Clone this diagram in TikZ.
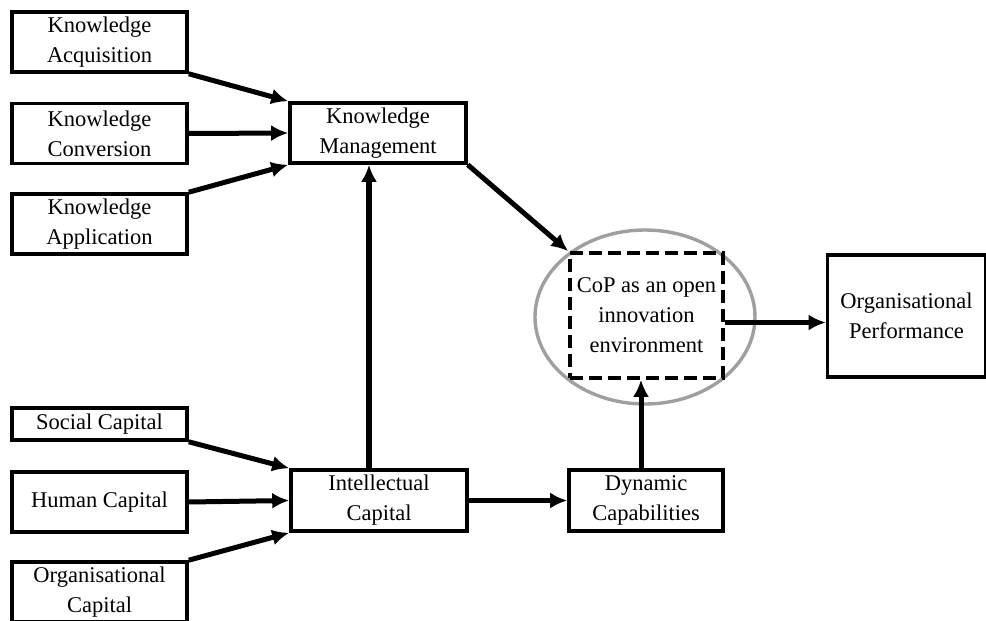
\documentclass[tikz,border=0pt]{standalone}
\usepackage{fontspec}
\setmainfont{Liberation Serif}
\usepackage{tikz}
\usetikzlibrary{arrows.meta, calc}

\begin{document}
\begin{tikzpicture}[x=1pt, y=-1pt,
    box/.style={draw, line width=3.6pt, inner sep=0pt, align=center,
      minimum width=175pt, minimum height=60pt,
      font=\fontsize{22.5}{30}\selectfont},
    arr/.style={-{Latex[length=17pt,width=16pt]}, line width=5pt}]
  \useasboundingbox (0,0) rectangle (986,621);
  \clip (0,0) rectangle (986,621);
  % knowledge side
  \node[box] (KA) at (99.5,42) {Knowledge\\Acquisition};
  \node[box] (KC) at (99.5,133.5) {Knowledge\\Conversion};
  \node[box] (KAp) at (99.5,224) {Knowledge\\Application};
  \node[box, minimum width=176pt] (KM) at (378,133) {Knowledge\\Management};
  % capital side
  \node[box, minimum height=32pt] (SC) at (99.5,424) {Social Capital};
  \node[box] (HC) at (99.5,502) {Human Capital};
  \node[box] (OC) at (99.5,592) {Organisational\\Capital};
  \node[box, minimum width=176pt, minimum height=61pt] (IC) at (379,500.5) {Intellectual\\Capital};
  \node[box, minimum width=154pt, minimum height=61pt] (DC) at (646,500.5) {Dynamic\\Capabilities};
  % CoP and outcome
  \draw[gray!75, line width=3.4pt] (645,317) ellipse (110 and 87);
  \node[box, dash pattern=on 13pt off 6pt, minimum width=153pt, minimum height=125pt] (CoP) at (646.5,315.5) {CoP as an open\\innovation\\environment};
  \node[box, minimum width=158pt, minimum height=122pt] (OP) at (906.5,316) {Organisational\\Performance};
  \draw[arr] (KA.south east) -- (KM.north west);
  \draw[arr] (KC.east) -- (KM.west);
  \draw[arr] (KAp.north east) -- (KM.south west);
  \draw[arr] (SC.south east) -- (IC.north west);
  \draw[arr] (HC.east) -- (IC.west);
  \draw[arr] (OC.north east) -- (IC.south west);
  \draw[arr, line width=6pt] ([xshift=-10]IC.north) -- ([xshift=-10]IC.north |- KM.south);
  \draw[arr] (IC.east) -- (DC.west);
  \draw[arr] (KM.south east) -- (CoP.north west);
  \draw[arr] ([xshift=-5]DC.north) -- ([xshift=-5]DC.north |- CoP.south);
  \draw[arr] ([yshift=-7]CoP.east) -- ([yshift=-7]CoP.east -| OP.west);
\end{tikzpicture}
\end{document}
